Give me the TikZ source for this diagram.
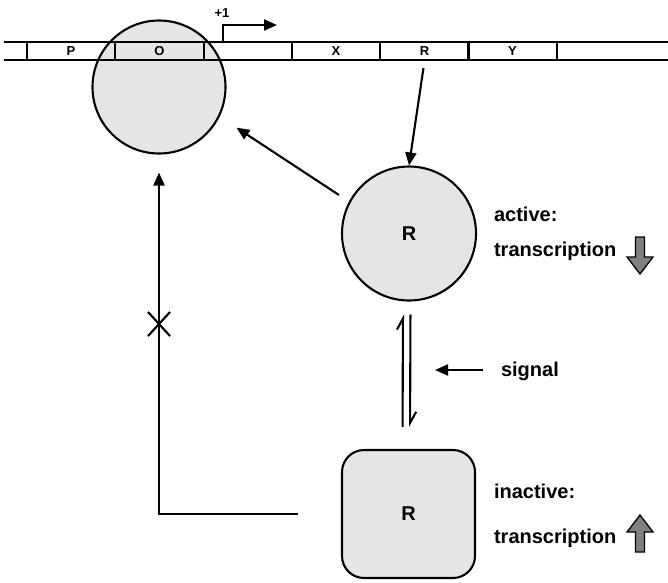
\documentclass[tikz,border=0pt]{standalone}
\usepackage{fontspec}
\setmainfont{Liberation Sans}
\usetikzlibrary{positioning,arrows.meta,shapes.misc}

\definecolor{cellgray}{gray}{0.9}
\definecolor{arrowgray}{gray}{0.5}

\tikzset{
	arr/.style={-{Triangle[length=13pt,width=11pt]}},
	harp/.style={-{Straight Barb[harpoon,length=11pt,width=12pt]}},
	seglabel/.style={minimum width=88pt, minimum height=18pt, inner sep=0pt,
		font=\bfseries\fontsize{13}{15}\selectfont},
	txt/.style={inner sep=0pt, anchor=base west},
	transarrow/.pic={
		\draw[fill=arrowgray, line width=1.3pt] (-4.5,-37) -- (4.5,-37) -- (4.5,-17)
			-- (13,-17) -- (0,0) -- (-13,-17) -- (-4.5,-17) -- cycle;
	}
}

\begin{document}
\begin{tikzpicture}[x=1pt, y=-1pt, line width=2.1pt,
	font=\bfseries\fontsize{20}{24}\selectfont]

\useasboundingbox (0,0) rectangle (668,582);

% Operator circle
\node[draw,
	circle,
	minimum size=133pt,
	fill=cellgray
] (operator) at (159,87) {};

% DNA strip
\draw (4,42) -- (668,42)
	(4,60) -- (668,60);
\foreach \x in {27,115.3,203.6,291.9,380.2,468.5,556.8}
	\draw (\x,42) -- (\x,60);
\foreach \lbl/\x in {P/71,O/159.5,X/336,R/424.5,Y/512.5}
	\node[seglabel] (seg\lbl) at (\x,51) {\lbl};

% Transcription start
\coordinate (tss) at (223,42);
\coordinate (tssend) at (277,25);
\draw[arr] (tss) |- (tssend);
\node[font=\bfseries\fontsize{13}{15}\selectfont] (plusone) at (222,13) {+1};

% Active repressor
\node[draw,
	circle,
	minimum size=134pt,
	fill=cellgray
] (active) at (409,233.5) {R};

% Inactive repressor
\node[draw,
	rounded corners=22pt,
	minimum width=133pt,
	minimum height=128pt,
	fill=cellgray
] (inactive) at (408.5,514) {R};

% Arrows
\draw[arr, shorten <=7pt] (segR.south) -- (active.north);

\draw[arr, shorten <=12pt, shorten >=20pt] (active.152) -- (operator.334);

\draw[arr, shorten <=43pt, shorten >=18pt] (inactive.west) -| (operator.south);

\node[draw,
	cross out,
	minimum width=20pt,
	minimum height=22pt
] (blocked) at (159,324) {};

% Equilibrium
\draw[harp, shorten <=22pt, shorten >=13pt]
	([xshift=-6pt]inactive.north) -- ([xshift=-6pt]active.south);
\draw[harp, shorten <=13pt, shorten >=22pt]
	([xshift=1.5pt]active.south) -- ([xshift=1.5pt]inactive.north);

% Signal
\node[txt] (signal) at (500,376) {signal};
\coordinate (signaltip) at (435,370);
\draw[arr, shorten <=17pt] (signal.west |- signaltip) -- (signaltip);

% State labels
\node[txt] (activelbl) at (493,221) {active:};
\node[txt] (activetr) at (493,256) {transcription};
\pic at (640,274) {transarrow};

\node[txt] (inactivelbl) at (493,498) {inactive:};
\node[txt] (inactivetr) at (493,543) {transcription};
\pic[rotate=180] at (640,515) {transarrow};

\end{tikzpicture}
\end{document}
